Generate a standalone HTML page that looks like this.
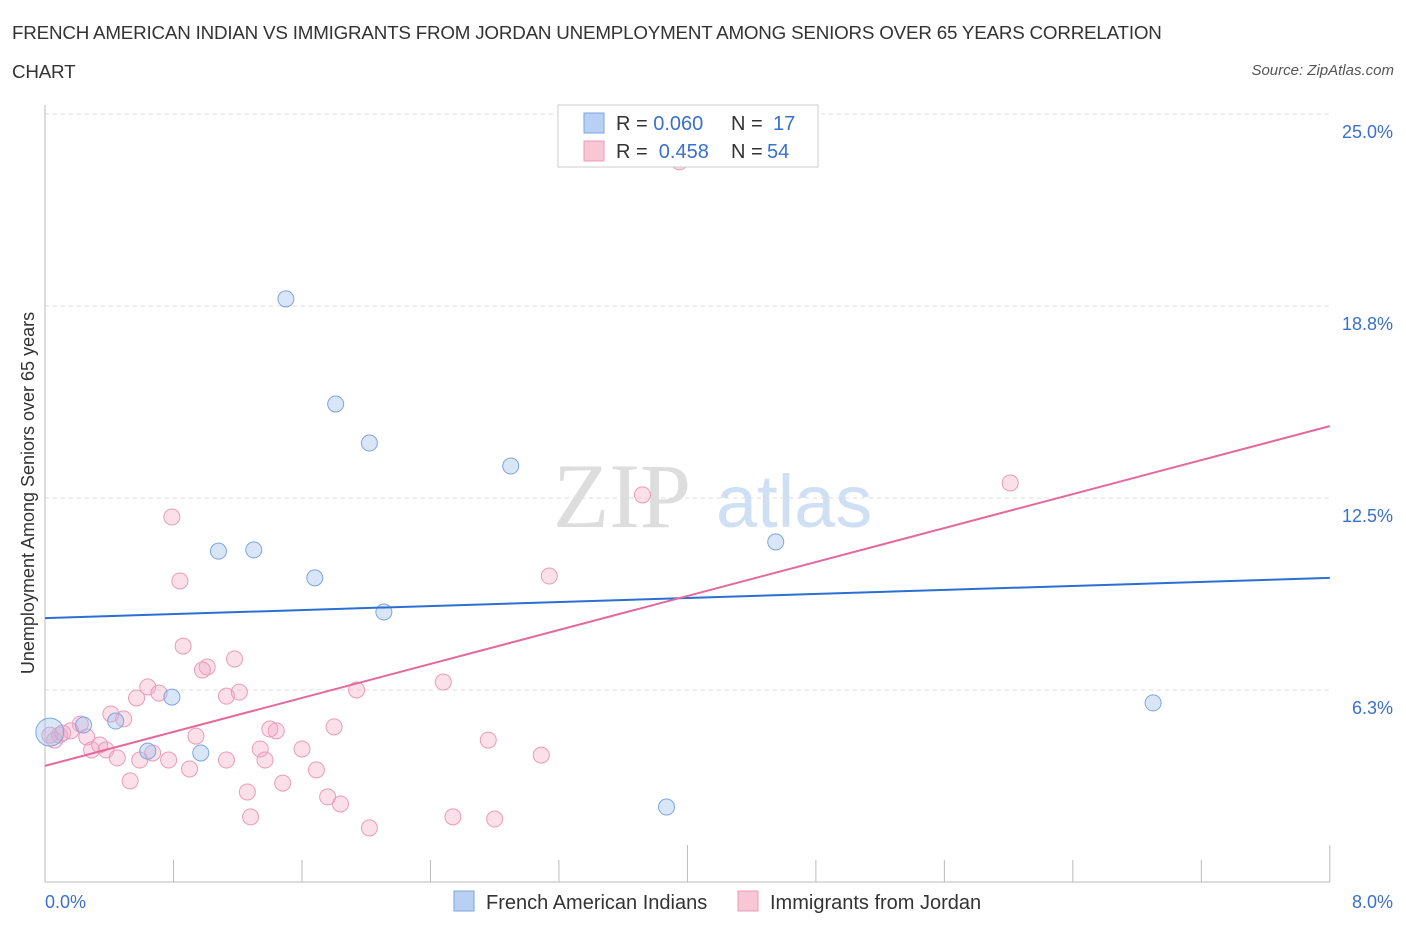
<!DOCTYPE html>
<html><head><meta charset="utf-8"><style>
body{margin:0;background:#fff;font-family:"Liberation Sans",sans-serif;}
#c{position:relative;width:1406px;height:930px;overflow:hidden}
.t{position:absolute;color:#333;font-size:18.8px;letter-spacing:-0.2px}
</style></head><body>
<div id="c">
<div class="t" style="left:12px;top:22px">FRENCH AMERICAN INDIAN VS IMMIGRANTS FROM JORDAN UNEMPLOYMENT AMONG SENIORS OVER 65 YEARS CORRELATION</div>
<div class="t" style="left:12px;top:61px">CHART</div>
<div style="position:absolute;right:12px;top:62px;font-size:15px;color:#555;font-style:italic">Source: ZipAtlas.com</div>
<svg id="s" width="1406" height="930" style="position:absolute;left:0;top:0"></svg>
</div>
<script>
const blueX=[0.03,0.24,0.44,0.64,0.79,0.97,1.08,1.30,1.50,1.68,1.81,2.02,2.11,2.90,3.87,4.55,6.90];
const blueY=[4.88,5.11,5.24,4.26,6.02,4.20,10.77,10.81,18.98,9.90,15.56,14.29,8.79,13.54,2.44,11.07,5.83];
const pinkX=[3.95,6.01,3.72,3.14,0.79,0.84,0.86,1.01,0.98,1.18,2.48,1.94,0.64,0.71,0.57,1.13,1.21,0.41,0.49,0.22,0.16,0.09,0.06,0.26,0.29,0.34,0.38,0.45,0.59,0.67,0.77,0.94,0.90,1.13,1.34,1.37,1.40,1.44,1.60,1.69,1.80,2.76,3.09,0.53,1.26,1.48,1.76,1.84,1.28,2.02,2.54,2.80,0.11,0.03];
const pinkY=[23.44,12.99,12.60,9.96,11.88,9.80,7.68,7.00,6.90,7.26,6.51,6.25,6.35,6.15,5.99,6.05,6.18,5.47,5.31,5.14,4.92,4.78,4.62,4.72,4.30,4.46,4.30,4.04,3.97,4.20,3.97,4.75,3.68,3.97,4.33,3.97,4.98,4.92,4.33,3.65,5.05,4.62,4.13,3.29,2.93,3.22,2.77,2.54,2.12,1.76,2.12,2.05,4.85,4.78];
const blueTrend=[8.59,9.90];
const pinkTrend=[3.78,14.84];
const yTicks=[6.25,12.5,18.75,25];
const yTickLabels=["6.3%","12.5%","18.8%","25.0%"];
const xTicks=[0,0.8,1.6,2.4,3.2,4.0,4.8,5.6,6.4,7.2,8.0];

const X=v=>45+v*160.6, Y=v=>882-v*30.72;
const s=document.getElementById('s'), NS='http://www.w3.org/2000/svg';
function mk(tag,attrs,parent){const e=document.createElementNS(NS,tag);for(const k in attrs)e.setAttribute(k,attrs[k]);(parent||s).appendChild(e);return e;}
let w=mk('text',{x:553,y:527,'font-size':92,'font-family':'Liberation Serif',fill:'#ddd'});w.textContent='ZIP';


w=mk('text',{x:716,y:527,'font-size':74,'font-family':'Liberation Sans',fill:'#cfe0f5'});w.textContent='atlas';


yTicks.forEach((v,i)=>{
 const g=mk('line',{x1:45,x2:1330,y1:Y(v),y2:Y(v),stroke:'#ddd','stroke-dasharray':'4,4'});
 
 
 const t=mk('text',{x:1393,y:Y(v)+24,'text-anchor':'end','font-size':18,fill:'#3a70cc'});t.textContent=yTickLabels[i];
 
 
});
let a=mk('line',{x1:45,x2:1330,y1:882,y2:882,stroke:'#bbb'});


a=mk('line',{x1:45,x2:45,y1:105,y2:882,stroke:'#bbb'});


xTicks.forEach((v,i)=>{const l=mk('line',{x1:X(v),x2:X(v),y1:882,y2:(i===5||i===10)?845:860,stroke:'#bbb'});
 
 });
let t=mk('text',{x:45,y:908,'font-size':18,fill:'#3a70cc'});t.textContent='0.0%';


t=mk('text',{x:1393,y:908,'text-anchor':'end','font-size':18,fill:'#3a70cc'});t.textContent='8.0%';


t=mk('text',{x:0,y:0,'font-size':18,fill:'#333',transform:'translate(34,493) rotate(-90)','text-anchor':'middle'});t.textContent='Unemployment Among Seniors over 65 years';


pinkX.forEach((x,i)=>{const c=mk('circle',{cx:X(x),cy:Y(pinkY[i]),r:8,fill:'rgba(244,165,195,0.35)',stroke:'#eb9bb8','stroke-width':1});
 
 });
blueX.forEach((x,i)=>{const c=mk('circle',{cx:X(x),cy:Y(blueY[i]),r:i===0?14:8,fill:'rgba(160,192,238,0.4)',stroke:'#7ba6e0','stroke-width':1});
 
 });
let l=mk('line',{x1:X(0),x2:X(8),y1:Y(blueTrend[0]),y2:Y(blueTrend[1]),stroke:'#2a6fd2','stroke-width':2});


l=mk('line',{x1:X(0),x2:X(8),y1:Y(pinkTrend[0]),y2:Y(pinkTrend[1]),stroke:'#e4699a','stroke-width':2});


let r=mk('rect',{x:558,y:105,width:260,height:62,fill:'#fff',stroke:'#ccc'});


[[0,'#b8d0f4','#7ba6e0','0.060','17'],[1,'#f9c6d6','#eb9bb8','0.458','54']].forEach(([i,f,st,R,N])=>{
 const y=113+i*28;
 const b=mk('rect',{x:584,y:y,width:20,height:20,fill:f,stroke:st});
 
 
 const tx=mk('text',{x:616,y:y+17,'font-size':20,fill:'#333'});
 tx.innerHTML='R = <tspan fill="#3a70cc">'+(i?'&#160;':'')+R+'</tspan><tspan x="731">N = </tspan><tspan fill="#3a70cc" x="'+(i?767:773)+'">'+N+'</tspan>';
 
 
});
[[454,'#b8d0f4','#7ba6e0','French American Indians'],[738,'#f9c6d6','#eb9bb8','Immigrants from Jordan']].forEach(([x,f,st,txt])=>{
 const b=mk('rect',{x:x,y:891,width:20,height:20,fill:f,stroke:st});
 
 
 const tx=mk('text',{x:x+32,y:909,'font-size':20,fill:'#333'});tx.textContent=txt;
 
 
});
</script>
</body></html>
